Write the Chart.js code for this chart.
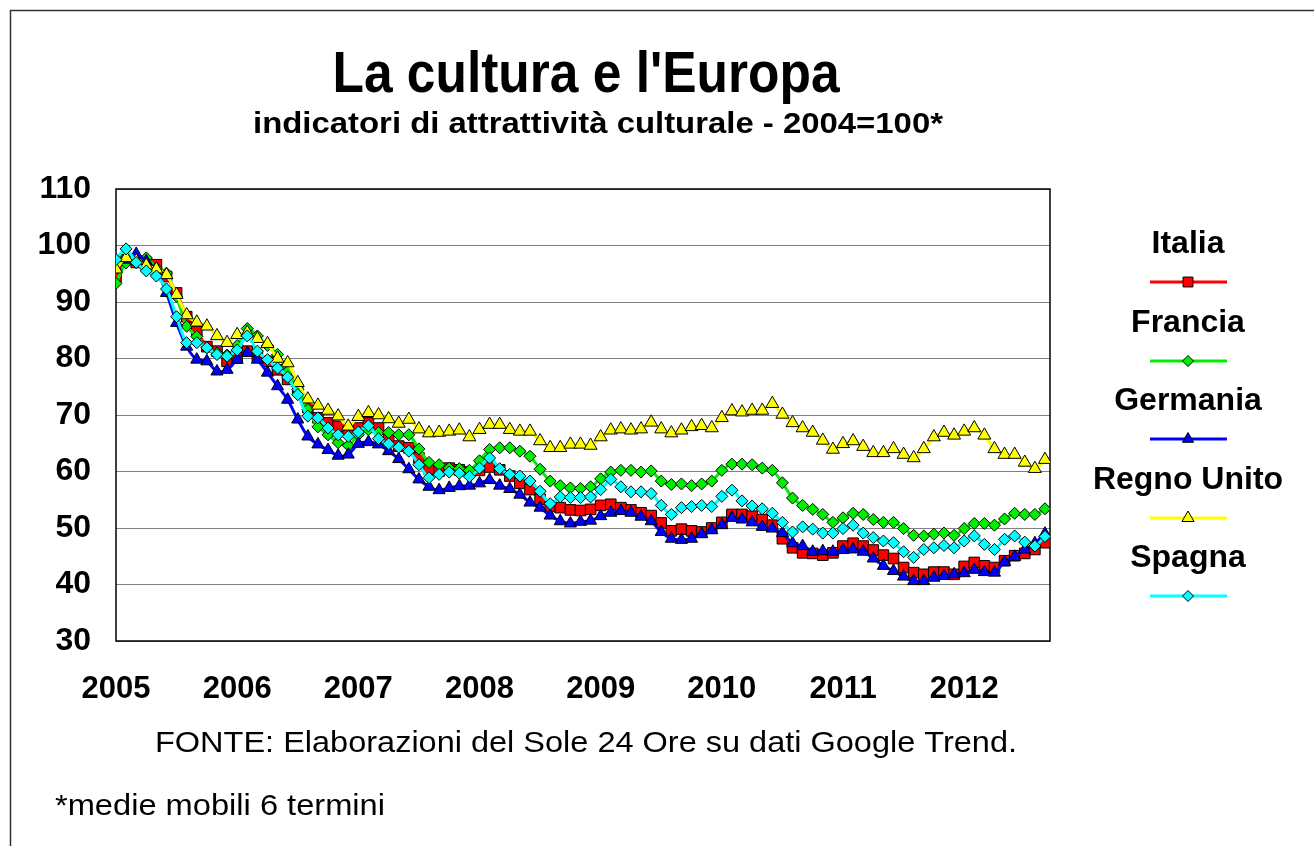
<!DOCTYPE html>
<html>
<head>
<meta charset="utf-8">
<script src="https://cdn.jsdelivr.net/npm/chart.js@4.4.1/dist/chart.umd.min.js"></script>
<style>
  html, body { margin: 0; padding: 0; background: #fff; }
</style>
</head>
<body>
<canvas id="myChart" width="1314" height="846"></canvas>
<script>
// tick labels for the x axis (one per January)
const years = ['2005', '2006', '2007', '2008', '2009', '2010', '2011', '2012'];

// monthly values, Jan 2005 .. Sep 2012
const italia = [94.5, 97.5, 97, 97, 96.6, 94.5, 91.6, 87.4, 84.8, 82.1, 81.3, 79.5,
  80.1, 81.3, 80.5, 79.5, 78, 76.3, 74.5, 71.3, 69.5, 68.6, 68, 67.1,
  67.7, 68.6, 67.7, 66.1, 64.5, 64.2, 62.4, 60.4, 60.1, 60.6, 60.3, 59.9,
  60.2, 60.8, 60.3, 59.2, 57.9, 56.8, 55.1, 53.8, 53.6, 53.2, 53.1, 53.3,
  54, 54.2, 53.6, 53.2, 52.7, 52.2, 50.9, 49.5, 49.8, 49.5, 49.3, 50,
  51, 52.4, 52.4, 52.1, 51.5, 50.5, 48.1, 46.5, 45.6, 45.5, 45.2, 45.6,
  46.8, 47.3, 46.8, 46.1, 45.2, 44.6, 43, 42.1, 41.8, 42.2, 42.2, 41.8,
  43.2, 43.9, 43.3, 43, 44.2, 45.1, 45.5, 46.2, 47.4];

const francia = [93.3, 96.9, 97, 97.8, 96, 95.1, 91, 85.7, 83.9, 81.9, 81, 80.6,
  82.3, 85.3, 84, 82.3, 80.7, 77.7, 74.5, 71, 67.9, 66.5, 65.1, 64.6,
  66.5, 67.4, 66.9, 66.9, 66.5, 66.5, 64, 61.6, 61.2, 60.6, 60.5, 60.2,
  61.9, 63.9, 64.2, 64.2, 63.6, 62.7, 60.4, 58.3, 57.5, 57.1, 57, 57.3,
  58.7, 59.9, 60.2, 60.2, 59.9, 60.1, 58.3, 57.7, 57.8, 57.5, 57.8, 58.3,
  60.2, 61.3, 61.3, 61.2, 60.6, 60.2, 58, 55.3, 54, 53.3, 52.4, 51,
  51.8, 52.6, 52.4, 51.5, 51, 51, 49.9, 48.7, 48.6, 48.9, 49.1, 48.7,
  49.9, 50.8, 50.8, 50.5, 51.6, 52.6, 52.4, 52.4, 53.4];

const germania = [96, 97.5, 98.5, 97.2, 95.5, 91.6, 86.3, 82.1, 79.8, 79.5, 77.7, 78,
  79.8, 81, 79.8, 77.5, 75.1, 72.7, 69.2, 66.2, 64.8, 63.8, 62.8, 63,
  64.9, 65.2, 64.8, 63.6, 62.2, 60.4, 58.6, 57.3, 56.7, 57.1, 57.4, 57.5,
  57.9, 58.5, 57.5, 56.9, 55.9, 54.5, 53.6, 52.2, 51.2, 50.8, 51.1, 51.3,
  52.1, 52.7, 53, 52.7, 52, 51.2, 49.3, 48.1, 47.9, 48.1, 48.9, 49.6,
  50.5, 51.8, 51.5, 51, 50.2, 49.9, 49.1, 47.3, 46.8, 45.8, 45.9, 45.8,
  46.1, 46.2, 45.8, 44.6, 43.3, 42.4, 41.4, 40.6, 40.6, 41.2, 41.5, 41.8,
  42, 42.6, 42.2, 42.1, 44, 44.9, 46.2, 47.3, 49];

const regnoUnito = [95.8, 97.8, 97.3, 96.5, 95.8, 94.8, 91.3, 87.7, 86.4, 85.7, 84, 82.8,
  84.2, 84.6, 83.5, 82.6, 80, 79.2, 75.7, 72.8, 71.7, 70.8, 69.8, 68,
  69.7, 70.4, 70, 69.3, 68.5, 69.2, 67.5, 66.8, 66.9, 67.1, 67.3, 66.1,
  67.4, 68.3, 68.3, 67.4, 67.1, 67.1, 65.4, 64.2, 64.2, 64.8, 64.8, 64.6,
  66.1, 67.3, 67.5, 67.3, 67.5, 68.7, 67.5, 66.8, 67.3, 67.9, 68.1, 67.7,
  69.5, 70.7, 70.5, 70.8, 70.8, 72, 70.1, 68.6, 67.7, 66.9, 65.5, 63.9,
  64.9, 65.4, 64.4, 63.3, 63.3, 64, 63, 62.4, 64, 66.1, 66.9, 66.4,
  67.1, 67.7, 66.4, 64, 63, 63, 61.6, 60.5, 62.1];

const spagna = [97.5, 99.4, 97, 95.5, 94.6, 92.3, 87.4, 82.8, 82.8, 81.9, 80.7, 80.4,
  81.5, 84, 81.3, 79.8, 78.3, 76.7, 73.6, 69.8, 69.5, 67.7, 66.5, 66.2,
  67, 68.1, 65.8, 64.9, 64.3, 63.6, 61.2, 58.9, 59.5, 59.9, 59.7, 59.1,
  60.6, 62.4, 60.5, 59.5, 59.2, 58.3, 56.5, 54.3, 55.5, 55.4, 55.4, 55.5,
  56.8, 58.6, 57.3, 56.4, 56.4, 56.1, 54, 52.4, 53.6, 53.8, 54, 53.8,
  55.6, 56.7, 54.8, 53.9, 53.4, 52.6, 51, 49.3, 50.2, 49.8, 49.1, 49.1,
  49.9, 50.5, 49.1, 48.3, 47.7, 47.4, 45.8, 44.8, 46.2, 46.5, 46.9, 46.5,
  47.7, 48.6, 47.1, 46.2, 48, 48.6, 47.5, 46.8, 48.5];

const FONT = "'Liberation Sans', Arial, sans-serif";

function pts(arr) {
  return arr.map((v, i) => ({x: i, y: v}));
}

function serie(label, data, color, style, radius, legendRadius, order) {
  return {
    label: label,
    data: pts(data),
    borderColor: color,
    backgroundColor: color,
    borderWidth: 3,
    pointStyle: style,
    pointRadius: radius,
    pointBackgroundColor: color,
    pointBorderColor: '#000',
    pointBorderWidth: 1,
    tension: 0.3,
    legendRadius: legendRadius,
    order: order
  };
}

// draws text squeezed/stretched to a given width
function fitText(ctx, text, x, y, font, width, align) {
  ctx.save();
  ctx.font = font;
  const w = ctx.measureText(text).width;
  ctx.translate(x, y);
  ctx.scale(width / w, 1);
  ctx.textAlign = align;
  ctx.textBaseline = 'alphabetic';
  ctx.fillStyle = '#000';
  ctx.fillText(text, 0, 0);
  ctx.restore();
}

const decor = {
  id: 'decor',
  beforeDatasetsDraw(chart) {
    const {ctx, chartArea: a} = chart;
    ctx.save();
    ctx.strokeStyle = '#000';
    ctx.lineWidth = 1.5;
    ctx.strokeRect(a.left, a.top, a.right - a.left, a.bottom - a.top);
    ctx.restore();
  },
  afterDraw(chart) {
    const ctx = chart.ctx;
    // outer frame (top and left)
    ctx.save();
    ctx.strokeStyle = '#333';
    ctx.lineWidth = 1.5;
    ctx.beginPath();
    ctx.moveTo(10.5, 846);
    ctx.lineTo(10.5, 10.5);
    ctx.lineTo(1314, 10.5);
    ctx.stroke();
    ctx.restore();

    fitText(ctx, "La cultura e l'Europa", 586, 92, 'bold 58px ' + FONT, 507, 'center');
    fitText(ctx, 'indicatori di attrattività culturale - 2004=100*', 598, 133, 'bold 30px ' + FONT, 690, 'center');
    fitText(ctx, 'FONTE: Elaborazioni del Sole 24 Ore su dati Google Trend.', 586, 752, '30px ' + FONT, 862, 'center');
    fitText(ctx, '*medie mobili 6 termini', 55, 815, '30px ' + FONT, 330, 'left');

    // legend: name above a line sample with its marker
    const rows = [253, 332, 410, 489, 567];
    chart.data.datasets.forEach((ds, i) => {
      const yT = rows[i];
      const yL = yT + 29;
      ctx.save();
      ctx.font = 'bold 32px ' + FONT;
      ctx.textAlign = 'center';
      ctx.fillStyle = '#000';
      ctx.fillText(ds.label, 1188, yT);
      ctx.strokeStyle = ds.borderColor;
      ctx.lineWidth = 3;
      ctx.beginPath();
      ctx.moveTo(1150, yL);
      ctx.lineTo(1227, yL);
      ctx.stroke();
      ctx.fillStyle = ds.pointBackgroundColor;
      ctx.strokeStyle = '#000';
      ctx.lineWidth = 1;
      Chart.helpers.drawPoint(ctx, {pointStyle: ds.pointStyle, radius: ds.legendRadius, rotation: 0, borderWidth: 1}, 1188, yL);
      ctx.restore();
    });
  }
};

const ctx = document.getElementById('myChart');
const myChart = new Chart(ctx, {
  type: 'line',
  plugins: [decor],
  data: {
    datasets: [
      serie('Italia', italia, '#ff0000', 'rect', 7.5, 7, 4),
      serie('Francia', francia, '#00ee00', 'rectRot', 6, 5.5, 3),
      serie('Germania', germania, '#0000ff', 'triangle', 7, 6.5, 2),
      serie('Regno Unito', regnoUnito, '#ffff00', 'triangle', 7.5, 7, 1),
      serie('Spagna', spagna, '#00ffff', 'rectRot', 6, 5.5, 0)
    ]
  },
  options: {
    responsive: false,
    animation: false,
    devicePixelRatio: 1,
    layout: {padding: {left: 10, top: 189, right: 264, bottom: 145}},
    plugins: {
      legend: {display: false},
      title: {display: false},
      tooltip: {enabled: false}
    },
    scales: {
      x: {
        type: 'linear',
        min: 0,
        max: 92.5,
        grid: {display: false, drawTicks: false},
        border: {display: false},
        afterFit: (s) => { s.height = 60; },
        ticks: {
          stepSize: 12,
          includeBounds: false,
          autoSkip: false,
          maxRotation: 0,
          padding: 30,
          color: '#000',
          font: {family: FONT, size: 31, weight: 'bold'},
          callback: (v) => (v % 12 === 0 ? years[v / 12] : '')
        }
      },
      y: {
        min: 30,
        max: 110,
        grid: {color: '#808080', lineWidth: 1, drawTicks: false},
        border: {display: false},
        afterFit: (s) => { s.width = 106; },
        ticks: {
          stepSize: 10,
          padding: 25,
          color: '#000',
          font: {family: FONT, size: 32, weight: 'bold'}
        }
      }
    }
  }
});
</script>
</body>
</html>
